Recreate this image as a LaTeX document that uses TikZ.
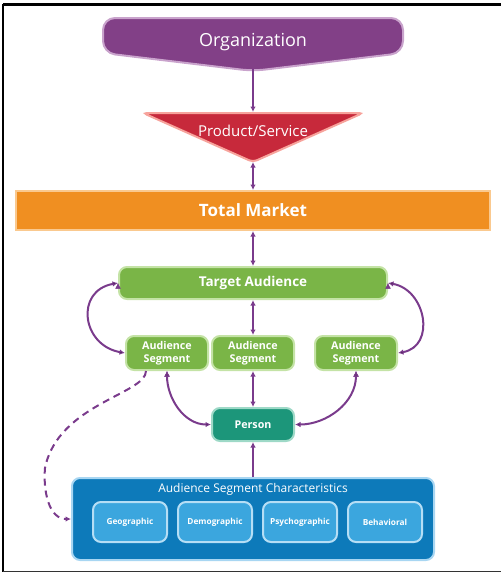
\documentclass[tikz,border=0pt]{standalone}
\usepackage{fontspec}
\setmainfont{Open Sans}
\usetikzlibrary{positioning,arrows.meta}
\definecolor{orgcol}{rgb}{0.51,0.25,0.53}
\definecolor{orgline}{rgb}{0.79,0.64,0.80}
\definecolor{prodcol}{rgb}{0.78,0.16,0.23}
\definecolor{prodline}{rgb}{0.97,0.64,0.61}
\definecolor{marketcol}{rgb}{0.94,0.56,0.13}
\definecolor{marketline}{rgb}{0.98,0.79,0.56}
\definecolor{greencol}{rgb}{0.48,0.71,0.28}
\definecolor{greenline}{rgb}{0.77,0.89,0.65}
\definecolor{tealcol}{rgb}{0.11,0.59,0.48}
\definecolor{tealline}{rgb}{0.62,0.85,0.78}
\definecolor{bluecol}{rgb}{0.05,0.48,0.73}
\definecolor{blueline}{rgb}{0.66,0.84,0.95}
\definecolor{skycol}{rgb}{0.23,0.65,0.87}
\definecolor{skyline}{rgb}{0.71,0.87,0.96}
\definecolor{linkcol}{rgb}{0.48,0.23,0.55}

\begin{document}
\begin{tikzpicture}[
  x = 1pt,
  y = 1pt,
  box/.style = {
    draw,
    rectangle,
    rounded corners = 8pt,
    line width = 2pt,
    text = white,
    inner sep = 0pt,
    align = center,
  },
  market/.style = {
    box,
    rounded corners = 0pt,
    fill = marketcol,
    draw = marketline,
    minimum width = 474pt,
    minimum height = 39pt,
    font = \fontsize{17}{20}\selectfont\bfseries,
  },
  target/.style = {
    box,
    fill = greencol,
    draw = greenline,
    minimum width = 268pt,
    minimum height = 32pt,
    font = \fontsize{13.5}{16}\selectfont\bfseries,
  },
  segment/.style = {
    box,
    fill = greencol,
    draw = greenline,
    minimum width = 82pt,
    minimum height = 34pt,
    font = \fontsize{10.7}{12.5}\selectfont\bfseries,
  },
  person/.style = {
    box,
    fill = tealcol,
    draw = tealline,
    minimum width = 82pt,
    minimum height = 33pt,
    font = \fontsize{10.7}{13}\selectfont\bfseries,
  },
  charbox/.style = {
    box,
    fill = bluecol,
    draw = blueline,
    minimum width = 362pt,
    minimum height = 82pt,
  },
  trait/.style = {
    box,
    fill = skycol,
    draw = skyline,
    minimum width = 74pt,
    minimum height = 40pt,
    font = \fontsize{8.3}{10}\selectfont\bfseries,
  },
  link/.style = {
    draw = linkcol,
    line width = 2pt,
  },
  >={Latex[length=5.5pt,width=5.5pt]},
]

  \useasboundingbox (0,0) rectangle (501,-573);

  % frame
  \draw[line width=2.5pt] (3,-4.5) -- (501,-4.5);
  \draw[line width=2pt] (3,-3.5) -- (3,-572);
  \draw[line width=1.5pt,black!80] (3,-571.5) -- (501,-571.5);

  % top shapes
  \draw[fill=orgcol,draw=orgline,line width=2pt,rounded corners=12pt]
    (103,-18) -- (403,-18) -- (403,-53) -- (253,-71) -- (103,-53) -- cycle;
  \draw[fill=prodcol,draw=prodline,line width=2pt,rounded corners=4pt]
    (143,-113) -- (363,-113) -- (253,-162) -- cycle;

  \node[text=white,font=\fontsize{18}{20}\selectfont] (org) at (253,-42) {Organization};
  \node[text=white,font=\fontsize{15}{18}\selectfont] (prod) at (253,-131) {Product/Service};
  \coordinate (orgtip) at (253,-69);
  \coordinate (prodtop) at (253,-112);
  \coordinate (prodtip) at (253,-162);

  \node[market] (tm) at (253,-210.5) {Total Market};
  \node[target] (ta) at (253,-283) {Target Audience};

  \node[segment] (as2) at (253,-353) {Audience\\Segment};
  \node[segment] (as1) [left=2pt of as2] {Audience\\Segment};
  \node[segment] (as3) [right=19pt of as2] {Audience\\Segment};

  \node[person] (pers) at (253,-424.5) {Person};

  % characteristics
  \node[charbox] (chars) at (253,-519) {};
  \node[text=white,font=\fontsize{12}{14}\selectfont] (chtitle) at (253,-489) {Audience Segment Characteristics};
  \node[trait] (geo) at (130,-522) {Geographic};
  \node[trait] (demo) [right=9pt of geo] {Demographic};
  \node[trait] (psy) [right=9pt of demo] {Psychographic};
  \node[trait] (beh) [right=9pt of psy] {Behavioral};

  % links
  \draw[->,link] (orgtip) -- (prodtop);
  \draw[<->,link] (prodtip) -- (tm);
  \draw[<->,link] (tm) -- (ta);
  \draw[<->,link] (ta) -- (as2);
  \draw[<->,link] (as2) -- (pers);
  \draw[->,link] (chars) -- (pers);

  \path[<->,link] (ta.west) edge[out=190,in=170,looseness=1.6] (as1.west);
  \path[<->,link] (ta.east) edge[out=-10,in=10,looseness=1.4] (as3.east);
  \path[<->,link] (as1.south) edge[out=-90,in=180] (pers.west);
  \path[<->,link] (as3.south) edge[out=-90,in=0] (pers.east);

  \draw[->,link,dash pattern=on 7pt off 5pt]
    ([xshift=-21pt]as1.south) .. controls (146,-394) and (58,-404) .. (45,-468)
    to[out=-95,in=180] (chars.west);

\end{tikzpicture}
\end{document}
